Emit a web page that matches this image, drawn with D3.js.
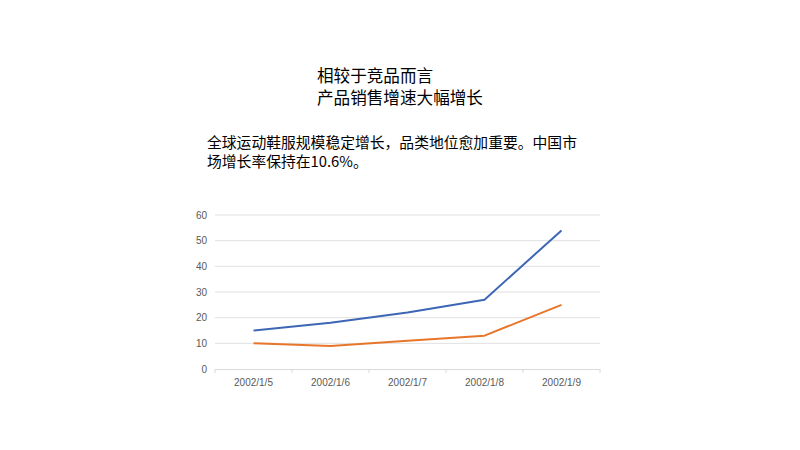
<!DOCTYPE html>
<html>
<head>
<meta charset="utf-8">
<script src="https://cdn.jsdelivr.net/npm/d3@7"></script>
<style>
  body { margin: 0; background: #fff; }
  svg { display: block; }
</style>
</head>
<body>
<svg id="chart" width="800" height="450"></svg>
<script>
// chart data
const dates = ["2002/1/5", "2002/1/6", "2002/1/7", "2002/1/8", "2002/1/9"];
const seriesA = [15, 18, 22, 27, 54];
const seriesB = [10, 9, 11, 13, 25];
const yTicks = [0, 10, 20, 30, 40, 50, 60];

const titleLines = ["相较于竞品而言", "产品销售增速大幅增长"];
const bodyLines = ["全球运动鞋服规模稳定增长，品类地位愈加重要。中国市", "场增长率保持在10.6%。"];

const svg = d3.select("#chart");
const cjk = "'Noto Sans CJK SC', sans-serif";

// headings
svg.selectAll(".title")
    .data(titleLines)
    .enter().append("text")
    .attr("class", "title")
    .attr("x", 317)
    .attr("y", (d, i) => 82 + i * 22)
    .attr("font-family", cjk)
    .attr("font-size", "16.6px")
    .attr("fill", "#000")
    .text(d => d);

svg.selectAll(".body")
    .data(bodyLines)
    .enter().append("text")
    .attr("class", "body")
    .attr("x", 207)
    .attr("y", (d, i) => 148 + i * 19)
    .attr("font-family", cjk)
    .attr("font-size", "14.8px")
    .attr("fill", "#000")
    .text(d => d);

// plot area
const plotLeft = 215, plotRight = 600, plotTop = 215, plotBottom = 369;

const x = d3.scaleBand().domain(dates).range([plotLeft, plotRight]);
const y = d3.scaleLinear().domain([0, 60]).range([plotBottom, plotTop]);

// gridlines
svg.append("g")
    .selectAll("line")
    .data(yTicks.filter(t => t > 0))
    .enter().append("line")
    .attr("x1", plotLeft).attr("x2", plotRight)
    .attr("y1", d => y(d)).attr("y2", d => y(d))
    .attr("stroke", "#e0e0e0")
    .attr("stroke-width", 1);

// y axis labels
const yAxis = svg.append("g")
    .attr("transform", `translate(${plotLeft},0)`)
    .call(d3.axisLeft(y).tickValues(yTicks).tickSize(0).tickPadding(8));
yAxis.select(".domain").remove();
yAxis.selectAll("text")
    .attr("font-family", "'Liberation Sans', Arial, sans-serif")
    .attr("font-size", "10px")
    .attr("fill", "#595959");

// x axis
const xAxis = svg.append("g")
    .attr("transform", `translate(0,${plotBottom})`)
    .call(d3.axisBottom(x).tickSize(0).tickPadding(10));
xAxis.select(".domain").attr("stroke", "#d9d9d9");
xAxis.selectAll("text")
    .attr("font-family", "'Liberation Sans', Arial, sans-serif")
    .attr("font-size", "10px")
    .attr("fill", "#595959");
// band boundary tick marks
xAxis.selectAll(".bound")
    .data(dates.map(d => x(d)).concat([plotRight]))
    .enter().append("line")
    .attr("class", "bound")
    .attr("x1", d => d).attr("x2", d => d)
    .attr("y1", 0).attr("y2", 4)
    .attr("stroke", "#d9d9d9");

const line = d3.line()
    .x((d, i) => x(dates[i]) + x.bandwidth() / 2)
    .y(d => y(d));

svg.append("path")
    .datum(seriesA)
    .attr("d", line)
    .attr("fill", "none")
    .attr("stroke", "#3d66b5")
    .attr("stroke-width", 2)
    .attr("stroke-linejoin", "round");

svg.append("path")
    .datum(seriesB)
    .attr("d", line)
    .attr("fill", "none")
    .attr("stroke", "#e8762a")
    .attr("stroke-width", 2)
    .attr("stroke-linejoin", "round");
</script>
</body>
</html>
